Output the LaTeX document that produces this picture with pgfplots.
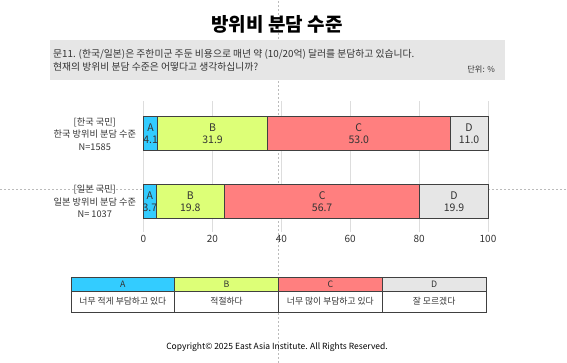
\documentclass[border=0pt]{standalone}
\usepackage{fontspec}
\setmainfont{Noto Sans CJK KR}
\usepackage{pgfplots}
\usepackage{pgfplotstable}
\pgfplotsset{compat=1.18}
\definecolor{colA}{HTML}{33CCFF}
\definecolor{colB}{HTML}{DDFF77}
\definecolor{colC}{HTML}{FF7F7F}
\definecolor{colD}{HTML}{E6E6E6}
\definecolor{textc}{HTML}{333333}
\definecolor{edgec}{HTML}{404040}
\definecolor{gridc}{HTML}{DDDDDD}
\definecolor{guidec}{HTML}{BBBBBB}
\definecolor{boxc}{HTML}{E6E6E6}

\pgfplotstableread{
pos A B C D
1 4.1 31.9 53.0 11.0
0 3.7 19.8 56.7 19.9
}\datatab

\begin{document}
\begin{tikzpicture}[x=1pt,y=1pt]
\useasboundingbox (0,0) rectangle (567,363);
% guide lines
\draw[guidec, line width=0.8pt, dash pattern=on 2pt off 2pt] (278,0) -- (278,363);
\draw[guidec, line width=0.8pt, dash pattern=on 2pt off 2pt] (0,174) -- (567,174);
% title
\node[font=\fontsize{19}{22}\selectfont\bfseries, text=black] at (277,339) {방위비 분담 수준};
% question box
\fill[boxc] (50,283) rectangle (505,323);
\node[anchor=west, font=\fontsize{9.8}{11}\selectfont, text=textc, inner sep=0pt] at (53,309) {문11. (한국/일본)은 주한미군 주둔 비용으로 매년 약 (10/20억) 달러를 분담하고 있습니다.};
\node[anchor=west, font=\fontsize{9.8}{11}\selectfont, text=textc, inner sep=0pt] at (53,296) {현재의 방위비 분담 수준은 어떻다고 생각하십니까?};
\node[anchor=east, font=\fontsize{8.2}{10}\selectfont, text=textc, inner sep=0pt] at (495,294) {단위: \%};

\begin{axis}[
  at={(143.5pt,131pt)}, anchor=south west,
  scale only axis, width=344.5pt, height=131pt,
  xbar stacked, bar width=34pt,
  xmin=0, xmax=100, ymin=-0.452, ymax=1.489,
  xtick={0,20,...,100}, ytick={0,1},
  yticklabels={{[일본 국민]\\일본 방위비 분담 수준\\N= 1037},{[한국 국민]\\한국 방위비 분담 수준\\N=1585}},
  yticklabel style={align=center, font=\fontsize{9.2}{12.5}\selectfont, text=textc, xshift=-4pt},
  xticklabel style={font=\fontsize{10}{11}\selectfont, text=textc},
  xmajorgrids, grid style={gridc, line width=0.8pt},
  axis line style={draw=none}, major tick length=0pt,
  /pgf/number format/assume math mode=true,
  clip=false,
  every axis plot/.append style={draw=edgec, line width=1pt},
  seg/.style 2 args={
    visualization depends on={\thisrow{#2}\as\segval},
    nodes near coords={#1\\\pgfmathprintnumber[fixed,fixed zerofill,precision=1]{\segval}},
    every node near coord/.append style={anchor=center, align=center,
      font=\fontsize{10.5}{12}\selectfont, text=textc, inner sep=0pt},
  },
]
\addplot[fill=colA, seg={A}{A}] table[x=A, y=pos]{\datatab};
\addplot[fill=colB, seg={B}{B}] table[x=B, y=pos]{\datatab};
\addplot[fill=colC, seg={C}{C}] table[x=C, y=pos]{\datatab};
\addplot[fill=colD, seg={D}{D}] table[x=D, y=pos]{\datatab};
\end{axis}

% legend table
\fill[colA] (71,72) rectangle (174.75,86);
\fill[colB] (174.75,72) rectangle (278.5,86);
\fill[colC] (278.5,72) rectangle (382.25,86);
\fill[colD] (382.25,72) rectangle (486,86);
\fill[white] (71,51) rectangle (486,72);
\draw[edgec, line width=0.9pt] (71,51) rectangle (486,86);
\draw[edgec, line width=0.9pt] (71,72) -- (486,72);
\foreach \xx in {174.75,278.5,382.25} {\draw[edgec, line width=0.9pt] (\xx,51) -- (\xx,86);}
\begin{scope}[every node/.style={font=\fontsize{8.8}{10}\selectfont, text=textc}]
\node at (122.875,79) {A};
\node at (226.625,79) {B};
\node at (330.375,79) {C};
\node at (434.125,79) {D};
\node at (122.875,61.5) {너무 적게 부담하고 있다};
\node at (226.625,61.5) {적절하다};
\node at (330.375,61.5) {너무 많이 부담하고 있다};
\node at (434.125,61.5) {잘 모르겠다};
\end{scope}
\node[font=\fontsize{8.5}{10}\selectfont, text=black] at (277,16) {Copyright© 2025 East Asia Institute. All Rights Reserved.};
\end{tikzpicture}
\end{document}
